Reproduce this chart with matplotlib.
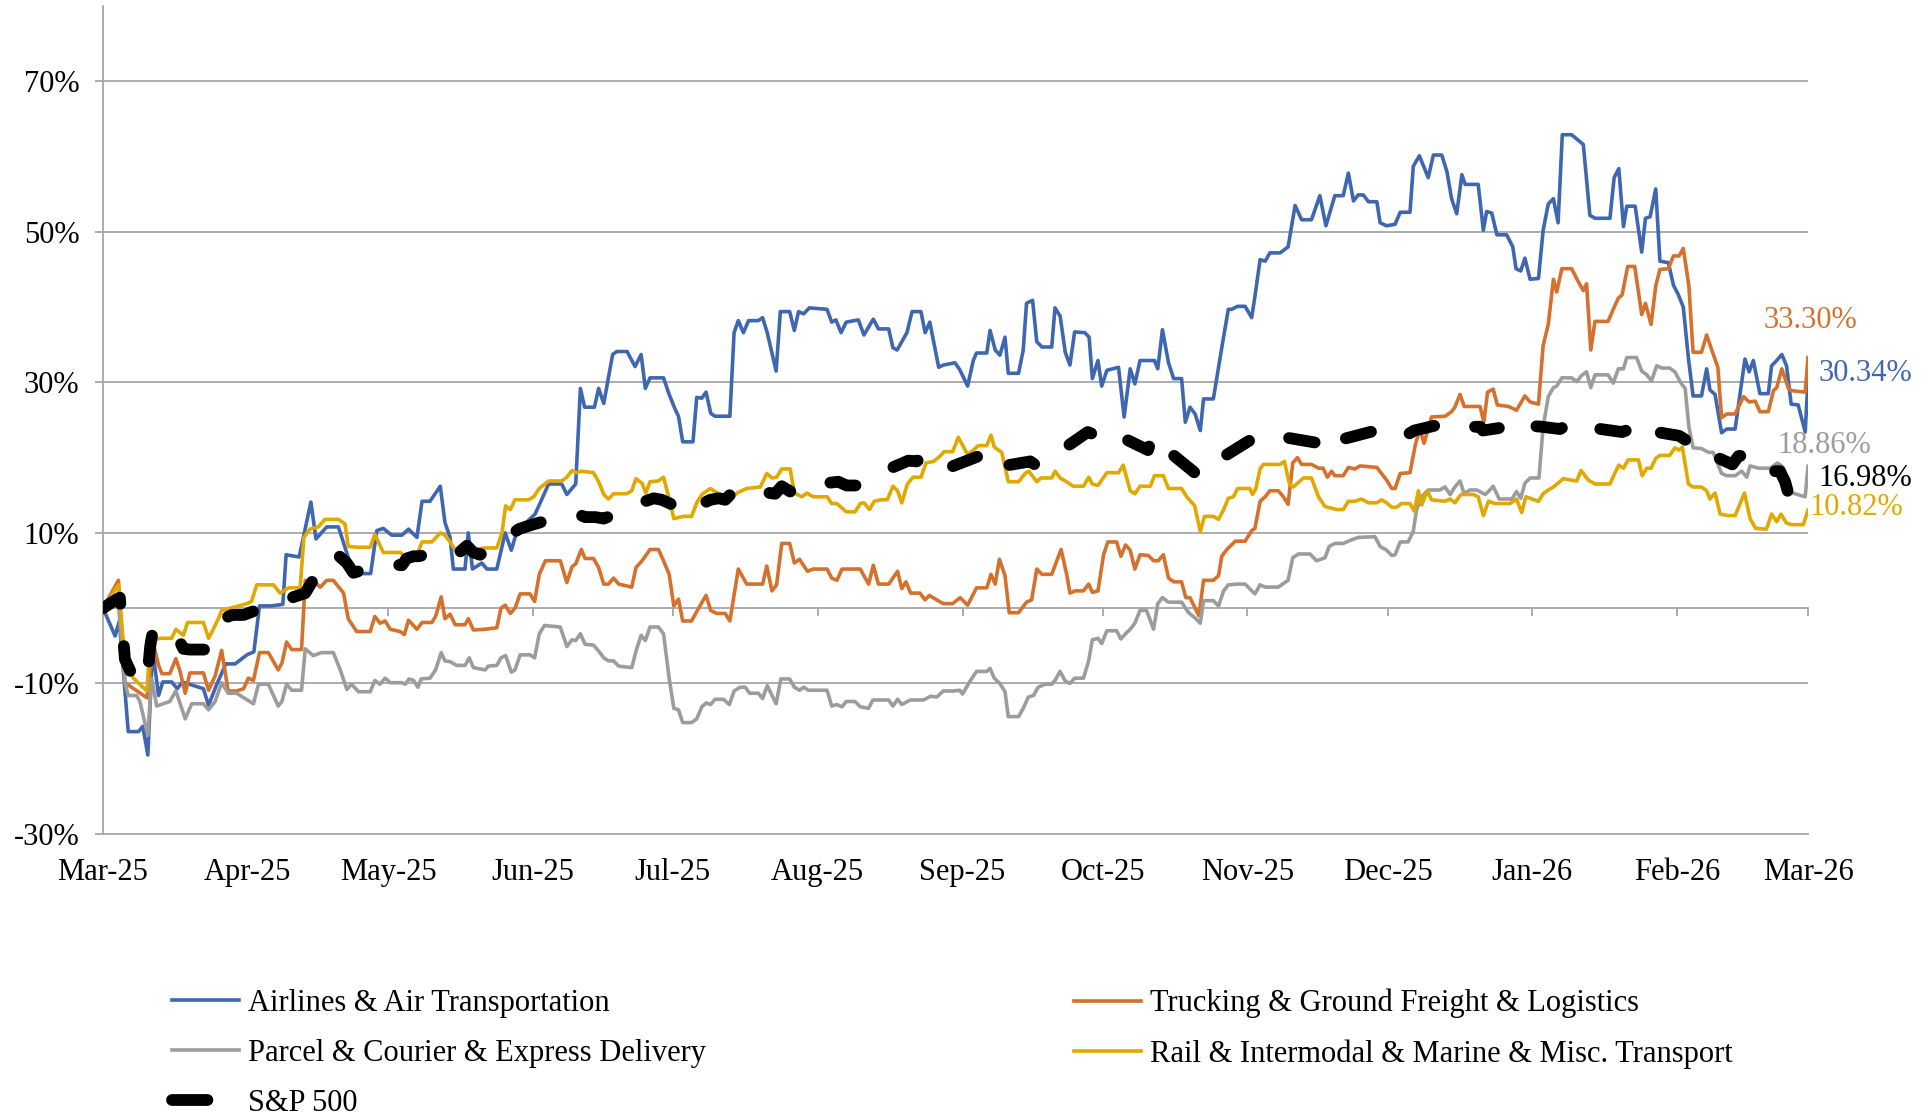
import numpy as np
import matplotlib
matplotlib.use("Agg")
import matplotlib.pyplot as plt
import matplotlib.dates as mdates
from matplotlib.lines import Line2D

plt.rcParams['font.family'] = ['Liberation Serif', 'DejaVu Serif']

# cumulative return (%) vs days after 2025-03-01
airlines = [
    (0, 0), (2.6, -3.7), (3.5, -1.7), (5.4, -16.4), (7.6, -16.4), (8.5, -15.7), (9.6, -19.5),
    (10.6, -5.5), (11.9, -11.6), (12.8, -9.8), (14.7, -9.8), (15.9, -10.7), (17.0, -9.8),
    (21.5, -10.7), (22.6, -12.9), (24.3, -10.2), (26.3, -7.4), (28.3, -7.4), (30.8, -6.2),
    (32.3, -5.8), (33.5, 0.3), (35.9, 0.3), (38.5, 0.5), (39.2, 7.1), (42.0, 6.8), (44.5, 14.1),
    (45.6, 9.2), (47.9, 10.8), (50.4, 10.8), (53.6, 4.6), (57.3, 4.6), (58.6, 10.3), (60.0, 10.6),
    (61.8, 9.7), (64, 9.7), (65.4, 10.5), (67.2, 9.4), (68.3, 14.2), (70, 14.2), (72.2, 16.2),
    (73.2, 11.4), (74.3, 9.4), (75, 5.2), (77.5, 5.2), (78.2, 10), (79.1, 5.2), (81.1, 6.0),
    (82.2, 5.2), (84.3, 5.2), (86.1, 10), (87.4, 7.7), (88.6, 10.2), (92.5, 12.5), (95.4, 16.5),
    (98.2, 16.5), (99.3, 15.1), (101.2, 16.5), (102.2, 29.2), (103.1, 26.7), (105.2, 26.7),
    (106.1, 29.2), (107.2, 27.2), (109.1, 33.7), (110, 34.1), (112.2, 34.1), (113.9, 32.1),
    (115.2, 33.7), (116.1, 29.2), (117.1, 30.6), (120, 30.6), (121.2, 28.4), (122.5, 26.4),
    (123.2, 25.5), (124.1, 22.1), (126.3, 22.1), (127.1, 28), (128.2, 27.9), (129.1, 28.7),
    (130.1, 25.9), (131, 25.5), (134.2, 25.5), (135.1, 36.6), (136, 38.2), (137.1, 36.6),
    (138.2, 38.2), (140.3, 38.2), (141.2, 38.6), (142.2, 36.6), (144.1, 31.5), (145, 39.4),
    (147, 39.4), (148, 36.9), (148.9, 39.4), (150, 39.1), (151.2, 39.9), (155, 39.7), (156, 38),
    (156.9, 38.3), (158, 36.6), (159.1, 38), (161.7, 38.3), (162.9, 36.3), (164.9, 38.4),
    (166, 37.1), (168.2, 37.1), (169.1, 34.6), (170, 34.3), (172.1, 36.6), (173.2, 39.4),
    (175.1, 39.4), (176, 36.6), (177, 38), (178.9, 32), (179.9, 32.3), (182.4, 32.6), (183.4, 31.7),
    (185.1, 29.5), (186.3, 32.9), (187, 33.9), (189.2, 33.9), (189.9, 36.9), (191, 34.3),
    (192, 33.6), (193.1, 36), (193.8, 31.2), (196, 31.2), (197, 34.3), (197.7, 40.5), (199, 40.9),
    (199.9, 35.4), (201, 34.7), (203.1, 34.7), (203.8, 39.9), (204.9, 38.8), (206, 34), (207, 32.3),
    (208, 36.7), (210.2, 36.6), (211.1, 36), (211.8, 30.5), (213, 32.9), (213.8, 29.5),
    (214.9, 31.6), (217.4, 32), (218.6, 25.4), (219.9, 31.8), (220.9, 29.8), (222, 32.9),
    (225.1, 32.9), (225.8, 31.8), (226.8, 37), (228.1, 32.6), (229.2, 30.5), (230.9, 30.5),
    (231.7, 24.7), (232.7, 26.7), (233.8, 25.8), (234.9, 23.6), (235.6, 27.8), (237.7, 27.8),
    (239.5, 34.6), (240.9, 39.7), (241.6, 39.7), (242.9, 40.1), (244.5, 40.1),
    (245.9, 38.6), (246.6, 41.4), (247.7, 46.3), (248.8, 46.1), (249.8, 47.2), (252, 47.2),
    (253.7, 48), (255.2, 53.5), (256.6, 51.6), (258.7, 51.6), (260.5, 54.8), (261.8, 50.8),
    (263.7, 54.8), (265.5, 54.8), (266.6, 57.8), (267.7, 54.1), (268.7, 54.9), (269.8, 54.9),
    (270.9, 54), (272.7, 54), (273.4, 51.2), (274.8, 50.8), (276.6, 51), (277.7, 52.6),
    (279.8, 52.6), (280.5, 58.7), (281.8, 60.1), (283.7, 57.2), (284.8, 60.2), (286.6, 60.2),
    (287.7, 58), (288.7, 54.4), (289.8, 52.4), (290.9, 57.6), (291.6, 56.3), (294.4, 56.3),
    (295.5, 50.2), (296.2, 52.7), (297.3, 52.5), (298.4, 49.6), (300.5, 49.6), (301.8, 48),
    (302.5, 45.1), (303.5, 44.8), (304.4, 46.5), (305.5, 43.7),
    (307.3, 43.8), (308.3, 50.2), (309.4, 53.7), (310.5, 54.4), (311.5, 51.2), (312.4, 62.9),
    (314.4, 62.9), (316.9, 61.6), (318.3, 52.2), (319.4, 51.8), (322.6, 51.8), (323.5, 57.2),
    (324.5, 58.4), (325.5, 50.7), (326.2, 53.4), (328, 53.4), (329.4, 47.3), (330.2, 51.8),
    (331.2, 52), (332.4, 55.7), (333.3, 46.1), (335.1, 45.9), (336.2, 42.9), (337.2, 41.7),
    (338.3, 40), (339.4, 33.2), (340.4, 28.2), (342.2, 28.2), (343.3, 31.8), (344, 29),
    (345.1, 28.4), (346.5, 23.3), (347.6, 23.8), (349.4, 23.8), (351.5, 33.1), (352.4, 31.4),
    (353.3, 32.9), (354.7, 28.5), (356.5, 28.5), (357.2, 32.2), (358.3, 32.9), (359.4, 33.7),
    (360.4, 32.2), (361.4, 27.1), (362.9, 27), (364.4, 23.4), (365, 30.34),
]

trucking = [
    (0, 0), (3.3, 3.7), (4.7, -9.9), (9.4, -11.9), (10.8, -4.8), (11.9, -7.6), (12.6, -8.7),
    (14.3, -8.7), (15.6, -6.7), (16.5, -8.4), (17.6, -11.3), (18.6, -8.6), (21.5, -8.6),
    (22.6, -10.9), (24, -9), (25.4, -5.6), (26.8, -11), (28.6, -11), (30.1, -10.7), (31.1, -9.3),
    (32.2, -9.6), (33.5, -5.9), (35.4, -5.9), (37.5, -8.2), (38.3, -7.3), (39.3, -4.5),
    (40.4, -5.5), (42.5, -5.5), (43.3, 3.7), (44.3, 2.8), (45.4, 3.4), (46.5, 2.8), (47.9, 3.7),
    (49.3, 3.7), (51.5, 2), (52.5, -1.4), (54.3, -3.1), (57.2, -3.1), (58.2, -1.1), (59.3, -2),
    (60.4, -1.7), (61.5, -2.8), (63.6, -3.1), (64.5, -3.5), (65.4, -1.6), (67.2, -2.8),
    (68.3, -1.9), (70.4, -1.9), (71.2, -1.1), (72.4, 1.5), (73.2, -1.4), (74.3, -0.8),
    (75.4, -2.2), (77.5, -2.2), (78.2, -1.4), (79.3, -2.9), (81.8, -2.8), (84.3, -2.6), (85.2, 0),
    (86.1, 0.4), (87.2, -0.7), (88.2, 0), (89.3, 1.9), (91.4, 1.9), (92.4, 0.9), (93.4, 4.5),
    (94.7, 6.3), (97.9, 6.3), (99.3, 3.4), (100.4, 5.5), (101.2, 5.9), (102.4, 7.8), (103.2, 6.6),
    (105, 6.6), (106.1, 5.4), (107.2, 3.2), (108.2, 3.2), (109.3, 4), (110.4, 3.2), (113.2, 2.8),
    (114.1, 5.4), (115.4, 6.3), (117.1, 7.8), (118.9, 7.8), (120, 6.3), (121.2, 4.5), (122.2, 0.3),
    (123.2, 1.2), (124.1, -1.7), (126, -1.7), (127.5, 0), (129.1, 1.7), (130.1, -0.3),
    (131.4, -0.7), (133.2, -0.7), (134.2, -1.7), (136, 5.2), (137.8, 3.2), (141.2, 3.2),
    (142.1, 5.6), (143.2, 2.3), (144.2, 3.1), (145.3, 8.6), (147, 8.6), (148, 6), (149.1, 6.5),
    (150.8, 4.9), (152, 5.2), (155, 5.2), (156, 4), (157.1, 3.7), (158.2, 5.2), (162.1, 5.2),
    (163.9, 3.2), (164.9, 5.7), (166, 3.2), (168.2, 3.2), (170.1, 4.9), (171, 2.6), (171.9, 3.5),
    (172.9, 2), (174.9, 2), (176, 1.1), (176.9, 1.7), (178.5, 1.1), (179.9, 0.6), (181.9, 0.6),
    (183.5, 1.4), (185.1, 0.4), (187, 2.7), (189.2, 2.7), (190.1, 4.5), (191, 3.2), (191.9, 6.5),
    (193.1, 4.3), (194, -0.6), (196, -0.6), (197.7, 0.8), (198.8, 1.1), (199.9, 5.2), (201, 4.5),
    (203.1, 4.5), (205.1, 7.8), (206.3, 4.5), (207, 2), (208.1, 2.3), (209.9, 2.3), (211, 3.2),
    (211.8, 2.1), (213, 2.3), (214.2, 7.1), (215.1, 8.8), (217, 8.8), (217.9, 6.9), (218.9, 8.4),
    (219.9, 7.7), (220.9, 5.2), (222, 7.1), (223.8, 7), (224.9, 6.3), (225.9, 6.3), (227, 7.1),
    (228.1, 4), (229.2, 3.5), (230.9, 3.5), (231.8, 1.4), (232.7, 1.4), (233.8, 0), (234.6, -1),
    (235.6, 3.7), (237.7, 3.7), (238.8, 4.3), (239.5, 6.9), (240.6, 7.8), (242.4, 8.9),
    (244.5, 8.9), (245.9, 10.3), (246.6, 10.6), (247.7, 14.2), (248.8, 14.8), (249.8, 15.6),
    (251.6, 15.6), (252.7, 14.8), (253.7, 13.8), (254.7, 19.3), (255.7, 20), (256.6, 19.1),
    (258.7, 19.1), (260.2, 18.6), (261.2, 18.6), (262.1, 17.4), (263, 18.2), (263.7, 17.6),
    (265.5, 17.6), (266.6, 18.7), (268, 18.5), (269.1, 18.9), (272.7, 18.7), (273.7, 17.9),
    (274.8, 17), (275.9, 15.9), (276.6, 15.9), (277.7, 17.9), (279.8, 18), (280.9, 21.6),
    (281.9, 23.8), (282.8, 21.9), (284.4, 25.4), (287.3, 25.5), (288.7, 26.1), (289.4, 26.7),
    (290.5, 28.4), (291.4, 26.8), (294.8, 26.8), (295.6, 24.7), (296.4, 28.7), (297.6, 29.1),
    (298.5, 27), (300.9, 26.8), (302.6, 26.3), (304.4, 28.2), (305.5, 27.4), (307.3, 27.1),
    (308.3, 34.9), (309.4, 37.7), (310.5, 43.7), (311.2, 42), (312.3, 45.1), (314.4, 45.1),
    (315.8, 43.4), (316.9, 42.2), (317.6, 43.1), (318.5, 34.3), (319.4, 38.1), (322.2, 38.1),
    (323.3, 39.7), (324.4, 41.2), (325.2, 41.6), (326.4, 45.4), (327.9, 45.4), (329.4, 39),
    (330.2, 40.5), (331.4, 37.7), (332.4, 42.8), (333.3, 45), (335.1, 45.1), (336.2, 46.8),
    (337.4, 46.8), (338.3, 47.8), (339.5, 42.8), (340.4, 34), (342.2, 34), (343.3, 36.3),
    (344.4, 34.3), (345.7, 32), (346.5, 25.3), (347.6, 25.8), (349.4, 25.8), (351.2, 28.1),
    (352.4, 27.4), (353.7, 27.5), (354.7, 26.1), (356.5, 26.1), (357.6, 28.9), (358.3, 29.3),
    (359.4, 31.8), (360.8, 29.2), (361.5, 28.9), (364.4, 28.7), (365, 33.30),
]

parcel = [
    (0, 0), (3.3, 0.5), (4.7, -9.9), (5.4, -11.6), (7.2, -11.6), (7.9, -12.4), (9.6, -16.9),
    (10.4, -9.3), (11.5, -13), (14.3, -12.4), (15.6, -11), (17.6, -14.7), (19, -12.7),
    (21.5, -12.7), (22.6, -13.5), (24, -12.4), (25.4, -9.9), (26.8, -11.3), (28.6, -11.3),
    (32.2, -12.7), (33.3, -10.1), (35.4, -10.1), (37.5, -13), (38.3, -12.4), (39.3, -10.1),
    (40.4, -10.9), (42.5, -10.9), (43.3, -5.4), (45, -6.3), (46.8, -5.9), (49.3, -5.9),
    (50.8, -8.2), (52.2, -10.8), (53.2, -10.1), (54.7, -11.1), (57.2, -11.1), (58.2, -9.6),
    (59.3, -10.1), (60.4, -9.3), (61.5, -9.9), (64, -9.9), (64.7, -10.1), (65.5, -9.4),
    (66.5, -9.6), (67.4, -10.5), (68.1, -9.4), (70, -9.3), (71.2, -8.2), (72.4, -5.9), (73.2, -7),
    (74.3, -7.1), (75.7, -7.6), (77.5, -7.6), (78.4, -6.6), (79.3, -7.9), (81.8, -8.2),
    (82.5, -7.7), (84.3, -7.6), (85.2, -6.6), (86.2, -6.3), (87.4, -8.5), (88.2, -8.2),
    (89.3, -6.2), (91.4, -6.2), (92.4, -6.6), (93.4, -3.4), (94.5, -2.3), (97.9, -2.5),
    (99.3, -5.1), (100.4, -4.2), (101.2, -4.3), (102.2, -3.4), (103.2, -4.8), (105, -4.9),
    (106.1, -5.7), (107.2, -6.6), (108.2, -7), (109.3, -7), (110.4, -7.7), (113.2, -7.9),
    (114.1, -5.7), (115.2, -3.6), (116.1, -4.3), (117.1, -2.5), (118.9, -2.5), (120, -3.4),
    (121.2, -9.3), (122.2, -13.3), (123.2, -13.5), (124.1, -15.2), (126, -15.2), (127.1, -14.7),
    (128.2, -13.1), (129.1, -12.6), (130.1, -12.8), (131, -12.1), (132.8, -12.1), (134.1, -12.8),
    (135.1, -11), (136.4, -10.5), (137.5, -10.5), (138.4, -11.3), (140.3, -11.3), (141.2, -12),
    (142.2, -10.3), (144.1, -12.7), (145.1, -9.4), (147, -9.4), (148, -10.5), (149.1, -10.9),
    (150, -10.5), (151, -10.9), (155, -10.9), (156, -13), (157.1, -12.8), (158.2, -13.1),
    (159.1, -12.4), (161, -12.4), (162.1, -13.1), (163.9, -13.3), (164.8, -12.2), (168.2, -12.2),
    (169.1, -13), (170.1, -12.1), (171, -12.8), (172.8, -12.2), (175.6, -12.2), (177.2, -11.7),
    (178.5, -11.8), (179.9, -11), (182.1, -11), (183.4, -10.9), (184, -11.4), (185.6, -9.7),
    (187, -8.4), (189.2, -8.4), (189.9, -8), (190.8, -9.3), (192, -10), (193.1, -11.1),
    (193.8, -14.4), (196, -14.4), (197, -13.3), (198.1, -11.8), (199.2, -11.6), (200.2, -10.5),
    (201.7, -10.1), (203.1, -10.1), (203.8, -9.6), (204.9, -8.4), (206, -9.7), (207, -10),
    (208, -9.3), (209.9, -9.3), (211, -7), (211.8, -4.2), (213, -4), (213.8, -4.7), (214.9, -3),
    (217, -3), (217.9, -4.1), (218.9, -3.4), (219.9, -2.8), (220.9, -2), (222, -0.3),
    (223.4, -0.3), (224.9, -2.8), (225.8, 0.6), (226.8, 1.4), (228.1, 0.8), (230.9, 0.8),
    (232.4, -0.6), (233.8, -1.3), (234.9, -2), (235.6, 1), (237.7, 1), (238.8, 0.3), (239.9, 2.3),
    (240.9, 3.1), (242.9, 3.2), (244.5, 3.2), (246.6, 1.9), (247.7, 3.1), (248.8, 2.8),
    (251.6, 2.8), (253.7, 3.7), (254.7, 6.7), (255.9, 7.2), (258.4, 7.2), (259.8, 6.3),
    (261.6, 6.7), (262.5, 8.2), (263.7, 8.6), (265.5, 8.6), (267, 9), (268.7, 9.4), (272.3, 9.5),
    (273.4, 8.2), (274.8, 7.7), (275.9, 7), (276.6, 7.1), (277.7, 8.8), (279.4, 8.8),
    (280.5, 10.2), (281.2, 13.1), (282.3, 14.8), (283.7, 15.7), (286.2, 15.7), (287.3, 16.1),
    (288.4, 15.1), (289.4, 16.1), (290.5, 16.9), (291.4, 15.2), (292.6, 15.7), (294.1, 15.7),
    (295.9, 15.1), (296.6, 15.5), (297.6, 16.2), (298.9, 14.5), (301.6, 14.5), (302.6, 15.5),
    (303.5, 14.6), (304.4, 16.6), (305.5, 17.3), (307.4, 17.3), (308.3, 24.1), (309.4, 28.1),
    (310.5, 29.3), (311.2, 29.5), (312.3, 30.6), (314.4, 30.6), (315.5, 30.1), (316.5, 30.9),
    (317.6, 31.4), (318.5, 29.3), (319.4, 31), (322.2, 31), (323.3, 29.9), (324.4, 31.8),
    (325.5, 31.8), (326.2, 33.3), (328.3, 33.3), (329.4, 31.5), (330.5, 31), (331.5, 30.2),
    (332.6, 32.2), (333.7, 31.9), (335.4, 31.9), (336.5, 31.4), (337.9, 29.8), (338.7, 29.2),
    (339.5, 24.1), (340.4, 21.3), (342.2, 21.2), (343.7, 20.7), (344.7, 20.7), (345.4, 19.6),
    (346.5, 17.9), (347.6, 17.6), (349.4, 17.6), (350.8, 18.2), (351.9, 17.4), (352.6, 18.9),
    (354.4, 18.6), (356.9, 18.6), (358.5, 19.3), (359.7, 18.7), (360.8, 15.5), (362.2, 15.2),
    (364.4, 14.8), (365, 18.86),
]

rail = [
    (0, 0), (3.3, 3.1), (4.7, -7), (6.5, -9.3), (9.4, -11), (10.1, -4.8), (11.1, -4.2),
    (12.2, -4), (14.7, -4), (15.6, -2.8), (17.2, -3.6), (18.1, -1.9), (21.5, -1.9), (22.6, -4),
    (23.6, -2.8), (24.7, -1.4), (25.4, -0.3), (30.8, 0.6), (31.8, 0.9), (32.9, 3.1), (36.5, 3.1),
    (37.9, 2), (39.7, 2.7), (42.2, 2.7), (43, 9.4), (44.3, 10.5), (46.1, 10.8), (47.5, 11.8),
    (50.4, 11.8), (51.8, 11.2), (52.5, 8.2), (54.3, 8.1), (57.2, 8.1), (58.2, 9.8), (60, 7.4),
    (61.5, 7.4), (63.6, 7.4), (64.7, 6.9), (67.2, 7.1), (68.3, 8.8), (70.4, 8.8), (72.2, 10),
    (73.2, 9.7), (74.3, 8.8), (75.4, 7.7), (78.2, 7.7), (79.3, 7.8), (81.8, 8), (84.3, 8),
    (85.4, 10), (86.2, 13.6), (87.2, 13.1), (88.2, 14.4), (91.1, 14.4), (92.2, 14.8),
    (93.4, 15.9), (95.4, 16.9), (98.2, 16.9), (99.3, 17.4), (100.4, 18.3), (101.4, 18),
    (102.4, 18.2), (105, 18), (106.1, 16.8), (107.2, 15.1), (108.2, 14.5), (109.3, 15.2),
    (112.1, 15.2), (113.2, 15.6), (114.1, 17.2), (115.4, 16.6), (116.2, 15.3), (117.1, 16.8),
    (118.9, 16.9), (120, 17.4), (121.1, 14.8), (122.2, 11.9), (124.3, 12.2), (126, 12.2),
    (127.1, 14), (128.2, 15.1), (130, 15.9), (132.1, 15.1), (134.2, 14.2), (135.7, 15.3),
    (137.8, 15.9), (140.7, 16.1), (142.1, 17.9), (143.2, 17.3), (144.2, 17.4), (145.3, 18.5),
    (147.1, 18.5), (148, 15.3), (149.6, 14.8), (150.7, 15.3), (152, 14.8), (155, 14.8),
    (156, 13.9), (157.1, 13.9), (159.1, 12.8), (161, 12.8), (162.1, 13.9), (162.9, 14),
    (164.1, 13.1), (165.1, 14.2), (166.4, 14.4), (167.9, 14.4), (169.1, 16.2), (170.1, 15.6),
    (171, 14), (172.2, 16.5), (173.4, 17.4), (175.1, 17.4), (176.2, 19.3), (177.8, 19.5),
    (179.2, 20.2), (180.1, 20.8), (181.9, 20.8), (183.1, 22.7), (185.1, 20.4), (186.3, 21),
    (187.4, 21.6), (189.2, 21.6), (190.1, 23), (190.8, 21.4), (192.4, 20.7), (193.8, 16.8),
    (196, 16.8), (197.4, 17.9), (198.2, 18.2), (199.9, 16.8), (200.8, 17.3), (203.1, 17.3),
    (203.8, 18.2), (204.9, 17.3), (206, 16.9), (207.7, 16.2), (209.9, 16.2), (211, 17.4),
    (211.8, 16.5), (213, 16.3), (214.9, 18), (217.4, 18), (218.4, 19), (219.9, 15.6),
    (220.9, 15.2), (222, 16.2), (224.2, 16.2), (225.1, 17.6), (227, 17.6), (228.1, 15.9),
    (230.9, 15.9), (232, 14.8), (233.7, 13.6), (234.9, 10.2), (235.8, 12.2), (237.7, 12.2),
    (238.8, 11.8), (239.9, 13.1), (240.9, 14.6), (242, 14.8), (242.9, 15.9), (245.5, 15.9),
    (246.1, 15.1), (246.8, 15.9), (247.7, 18.5), (248.4, 19.1), (252, 19.1), (252.9, 19.5),
    (254, 16.5), (254.8, 16.1), (257, 17.3), (258.7, 17.3), (260.2, 14.8), (261.6, 13.5),
    (264.1, 13.1), (265.5, 13.1), (266.6, 14.2), (268, 14.2), (269.4, 14.5), (270.9, 14),
    (272.7, 14), (273.7, 14.4), (274.8, 14), (275.9, 13.4), (276.9, 13.4), (278, 13.9),
    (279.8, 13.9), (280.7, 12.9), (281.6, 15.6), (282.3, 13.7), (283.5, 15.6), (284.4, 14.4),
    (287.3, 14.2), (288.4, 14.5), (289.4, 14), (290.7, 15.1), (293.4, 15.1), (294.4, 14.8),
    (295.5, 12.3), (296.6, 14.2), (298, 13.9), (301.2, 13.9), (302.6, 14.5), (303.7, 12.7),
    (304.6, 14.8), (305.5, 14.6), (307.3, 14.2), (308.3, 15.2), (309.4, 15.7), (310.5, 16.1),
    (312.6, 17.2), (315.5, 16.9), (316.4, 18.3), (318, 17), (319.4, 16.5), (322.6, 16.5),
    (323.7, 18), (324.5, 19), (325.5, 18.6), (326.5, 19.7), (328.7, 19.7), (329.5, 17.6),
    (330.5, 18.6), (331.4, 18.6), (332.4, 19.9), (333.3, 20.3), (335.4, 20.3), (336.5, 21.3),
    (337.4, 21), (338.1, 21.4), (339.4, 16.5), (340.4, 16.1), (342.2, 16.1), (343.3, 15.6),
    (344, 14.5), (345.1, 15.3), (346.2, 12.5), (347.9, 12.3), (349.4, 12.3), (351.4, 15.3),
    (352.6, 11.9), (353.8, 10.6), (356.1, 10.5), (357.2, 12.5), (358.3, 11.5), (359.2, 12.5),
    (360.4, 11.3), (361.5, 11.1), (364, 11.1), (365, 13.0),
]

sp500 = [
    (0, 0), (2.2, 0.9), (3.6, 1.4), (4.7, -6.8), (6.1, -8.7), (8.3, -9.3), (9.4, -9.9),
    (10.1, -5.1), (10.8, -2.5), (16.1, -4), (17.2, -5.4), (18.6, -5.5), (22.1, -5.5), (24, -3.4),
    (25.8, -1.4), (27.6, -0.9), (30.1, -0.9), (36.5, 0.6), (38.3, 1), (40.4, 1.4), (43.3, 2),
    (47.9, 6.8), (50.4, 7), (52.2, 6), (53.6, 4.7), (60, 5.9), (64, 5.7), (65, 6.6), (66.5, 6.9),
    (67.5, 6.9), (74.3, 7.7), (75.7, 7.1), (77.9, 8.3), (79.3, 7.4), (80.7, 7.1), (87.2, 9.7),
    (89, 10.5), (90.4, 10.8), (92.5, 11.2), (94.7, 11.6), (101.7, 12.5), (103.2, 12.1),
    (105.4, 12.1), (107.2, 11.9), (108.4, 12.2), (109.7, 12.8), (117.9, 14.6), (119.6, 14.4),
    (121.4, 13.9), (122.5, 13.4), (123.9, 12.5), (130, 14.4), (131.8, 14.6), (133.2, 14.4),
    (134.6, 15.3), (136, 15.9), (143.9, 15.2), (145.3, 16.2), (147.1, 15.5), (148.5, 16.3),
    (150.5, 16.3), (157.4, 16.8), (159.2, 16.3), (161.4, 16.3), (163.5, 16.9), (164.9, 17.6),
    (172.4, 19.6), (174.2, 19.5), (175.6, 20.2), (177.8, 19), (179.6, 18.3), (188.3, 20.4),
    (190.3, 20.7), (191.7, 21), (193.1, 20.4), (193.8, 19), (198.5, 19.5), (199.9, 18.9),
    (201.3, 19.5), (203.1, 19.9), (204.5, 20.7), (210.8, 23.4), (212.4, 23), (213.4, 22.1),
    (215.2, 22.7), (218.1, 22.7), (223.7, 21), (224.5, 22.5), (226.3, 22.9), (227.4, 22.4),
    (228.4, 20.7), (234.5, 17.6), (235.9, 18.5), (237.4, 18.6), (238.8, 19.7), (245, 22.1),
    (246.6, 22.7), (248.4, 23.1), (250.5, 23.3), (253, 22.7), (260.5, 21.9), (261.8, 20.7),
    (263, 21.9), (264.5, 22.5), (265.7, 22.5), (273.7, 23.8), (275.2, 22.9), (276.9, 22.7),
    (279.1, 23), (280.7, 23.6), (288.2, 24.7), (289.8, 24.1), (292.6, 24.1), (294.8, 24.1),
    (295.4, 23.6), (300.6, 24.1), (302.3, 25), (304.1, 25.1), (305.5, 24.7), (306.2, 24.2),
    (308, 24.1), (311.9, 23.8), (313.7, 24.4), (315.5, 25), (316.9, 24.4), (318.3, 24),
    (325.2, 23.4), (326.5, 23.7), (328, 23.3), (329.4, 22.5), (330.7, 23.6), (337.4, 22.9),
    (338.7, 22.4), (339.9, 21), (341.2, 20.8), (342.8, 20.8), (348.8, 19.1), (350.1, 20.2),
    (351.5, 20.3), (352.9, 19), (354.2, 18.2), (359, 18.2), (360.1, 16.8), (361.1, 14.5),
    (362.6, 14.2), (363.6, 14.2), (365, 16.98),
]

names = ['Airlines & Air Transportation', 'Trucking & Ground Freight & Logistics',
         'Parcel & Courier & Express Delivery', 'Rail & Intermodal & Marine & Misc. Transport',
         'S&P 500']
end_labels = ['30.34%', '33.30%', '18.86%', '10.82%', '16.98%']
colors = ['#3F67B1', '#D6702D', '#9C9C9C', '#E1A800', '#000000']
yticks = [-30, -10, 10, 30, 50, 70]

start = mdates.datestr2num('2025-03-01')
grid_c = '#A6A6A6'
fs = 22

fig = plt.figure(figsize=(19.31, 11.20), dpi=100)
ax = fig.add_axes([103 / 1931, 1 - 834 / 1120, (1808 - 103) / 1931, (834 - 6) / 1120])

series = [airlines, trucking, parcel, rail, sp500]
handles = []
for i, s in enumerate(series):
    arr = np.array(s, dtype=float)
    x = start + arr[:, 0]
    if i < 4:
        h, = ax.plot(x, arr[:, 1], color=colors[i], lw=2.6, solid_joinstyle='round', zorder=3 + i)
    else:
        h, = ax.plot(x, arr[:, 1], color=colors[i], lw=8.5, ls=(0, (2.2, 3.6)),
                     dash_capstyle='round', solid_joinstyle='round', zorder=8)
    handles.append(h)

ax.set_xlim(start, start + 365)
ax.set_ylim(-30, 80)
ax.set_yticks(yticks)
ax.set_yticklabels(['%d%%' % v for v in yticks])
ax.yaxis.grid(True, color=grid_c, lw=1.3)
ax.set_axisbelow(True)

ax.xaxis.set_major_locator(mdates.MonthLocator())
ax.xaxis.set_major_formatter(mdates.DateFormatter('%b-%y'))
ax.tick_params(axis='x', length=0, pad=17, labelsize=fs)
ax.tick_params(axis='y', direction='out', length=6, width=1.3, color=grid_c, pad=11, labelsize=fs)

for side in ['top', 'right']:
    ax.spines[side].set_visible(False)
for side in ['left', 'bottom']:
    ax.spines[side].set_color(grid_c)
    ax.spines[side].set_linewidth(1.3)

# zero line with month ticks
zero = ax.secondary_xaxis(30 / 110)
zero.xaxis.set_major_locator(mdates.MonthLocator())
zero.tick_params(axis='x', direction='out', length=6, width=1.3, color=grid_c, labelbottom=False)
zero.spines['bottom'].set_color(grid_c)
zero.spines['bottom'].set_linewidth(1.3)

# end-of-period labels
label_pos = [(367.2, 31.2), (355.4, 38.2), (358.4, 21.6), (365.2, 13.4), (367.2, 17.2)]
for (d, v), txt, c in zip(label_pos, end_labels, colors):
    ax.text(start + d, v, txt, color=c, fontsize=fs, ha='left', va='center')

# legend proxies (S&P shown as a single dash)
proxies = [Line2D([], [], color=colors[i], lw=2.6) for i in range(4)]
proxies.append(Line2D([], [], color='k', lw=8.5, ls=(0, (3.0, 10)), dash_capstyle='round'))

leg_kw = dict(loc='upper left', frameon=False, fontsize=fs, borderpad=0, borderaxespad=0,
              handlelength=2.2, handletextpad=0.3, labelspacing=0.68)
fig.legend([proxies[0], proxies[2], proxies[4]], [names[0], names[2], names[4]],
           bbox_to_anchor=(172 / 1931, 1 - 989 / 1120), **leg_kw)
fig.legend([proxies[1], proxies[3]], [names[1], names[3]],
           bbox_to_anchor=(1074 / 1931, 1 - 989 / 1120), **leg_kw)

fig.savefig('out.png', dpi=100)
